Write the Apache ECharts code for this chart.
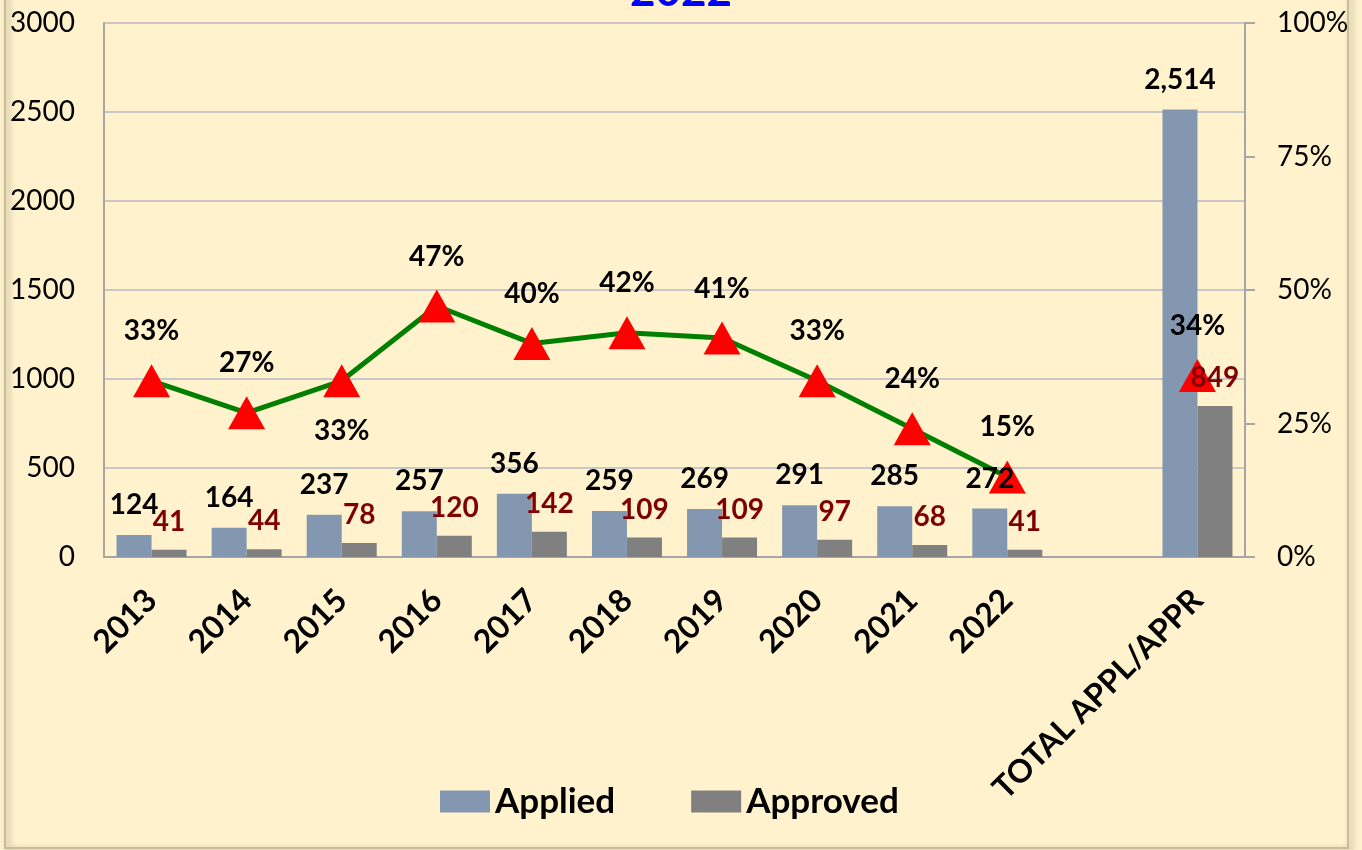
<!DOCTYPE html>
<html>
<head>
<meta charset="utf-8">
<script src="https://cdn.jsdelivr.net/npm/echarts@6/dist/echarts.min.js"></script>
<style>
html,body{margin:0;padding:0;background:#FFF2CC;}
#chart{width:1362px;height:850px;}
</style>
</head>
<body>
<div id="chart"></div>
<script>
const categories = ['2013','2014','2015','2016','2017','2018','2019','2020','2021','2022','','TOTAL APPL/APPR'];
const applied  = [124,164,237,257,356,259,269,291,285,272,null,2514];
const approved = [41,44,78,120,142,109,109,97,68,41,null,849];
const ratePct  = [33,27,33,47,40,42,41,33,24,15,null,34];
const leftTicks = {min:0, max:3000, interval:500};
const rightTicks = {min:0, max:100, interval:25};
const titleText = '2022';

const FONT = 'Lato';
const chart = echarts.init(document.getElementById('chart'), null, {renderer:'canvas'});

const rateData = ratePct.map((v,i)=> {
  if (v === null) return null;
  if (i === 2) return {value:v, label:{position:'bottom', distance:20}};
  return v;
});
const fmtNum = p => p.value==null ? '' : Number(p.value).toLocaleString('en-US');

chart.setOption({
  backgroundColor:'#FFF2CC',
  animation:false,
  textStyle:{fontFamily:FONT},
  graphic:[
    {type:'rect', z:-1, shape:{x:5,y:-10,width:1343,height:858},
     style:{fill:'none', stroke:'#C9BE9C', lineWidth:2, shadowBlur:6, shadowOffsetX:3, shadowOffsetY:2, shadowColor:'rgba(0,0,0,0.35)'}},
    {type:'text', left:'center', x:0, top:-30, z:10,
     style:{text:titleText, fontFamily:FONT, fontWeight:'bold', fontSize:44, fill:'#0000FF'}}
  ],
  grid:{left:104, right:117, top:23, bottom:293, containLabel:false},
  legend:{
    bottom:26, left:435, icon:'rect',
    itemWidth:50, itemHeight:22, itemGap:76,
    data:['Applied','Approved'],
    textStyle:{fontFamily:FONT, fontWeight:'bold', fontSize:35, color:'#000', padding:[0,0,0,0]}
  },
  xAxis:[{
    type:'category', data:categories,
    axisLine:{lineStyle:{color:'#A6A6A6', width:2}},
    axisTick:{show:false},
    axisLabel:{interval:0, rotate:45, margin:38, fontFamily:FONT, fontWeight:'bold', fontSize:32, color:'#000'}
  },{
    type:'category', data:categories, show:false
  }],
  yAxis:[
    {type:'value', min:leftTicks.min, max:leftTicks.max, interval:leftTicks.interval,
     axisLine:{show:true, lineStyle:{color:'#A6A6A6', width:2}},
     axisTick:{show:false},
     splitLine:{lineStyle:{color:'#C8C8C8', width:2}},
     axisLabel:{margin:29, formatter:v=>String(v), fontFamily:FONT, fontSize:28, color:'#000'}},
    {type:'value', min:rightTicks.min, max:rightTicks.max, interval:rightTicks.interval,
     axisLine:{show:true, lineStyle:{color:'#A6A6A6', width:2}},
     axisTick:{show:true, length:10, lineStyle:{color:'#A6A6A6', width:2}},
     splitLine:{show:false},
     axisLabel:{margin:32, formatter:'{value}%', fontFamily:FONT, fontSize:28, color:'#000'}}
  ],
  series:[
    {name:'Applied', type:'bar', data:applied, barWidth:35, barGap:'0%',
     itemStyle:{color:'#8497B0'}, z:2},
    {name:'Approved', type:'bar', data:approved, barWidth:35,
     itemStyle:{color:'#808080'}, z:2},
    {name:'Rate', type:'line', yAxisIndex:1, data:rateData, connectNulls:false,
     lineStyle:{color:'#008000', width:5},
     symbol:'triangle', symbolSize:[37,33],
     itemStyle:{color:'#FF0000'},
     label:{show:true, position:'top', distance:19, formatter:'{c}%', fontFamily:FONT, fontWeight:'bold', fontSize:28, color:'#000'},
     z:3},
    // label-only overlays so the bar values sit above the line markers
    {name:'AppliedLabels', type:'bar', xAxisIndex:1, data:applied, barWidth:35, barGap:'0%', silent:true,
     itemStyle:{color:'rgba(0,0,0,0)'}, z:5,
     label:{show:true, position:'top', distance:16, fontFamily:FONT, fontWeight:'bold', fontSize:28, color:'#000', formatter:fmtNum}},
    {name:'ApprovedLabels', type:'bar', xAxisIndex:1, data:approved, barWidth:35, silent:true,
     itemStyle:{color:'rgba(0,0,0,0)'}, z:5,
     label:{show:true, position:'top', distance:14, fontFamily:FONT, fontWeight:'bold', fontSize:28, color:'#7F0000', formatter:fmtNum}}
  ]
});
</script>
</body>
</html>
